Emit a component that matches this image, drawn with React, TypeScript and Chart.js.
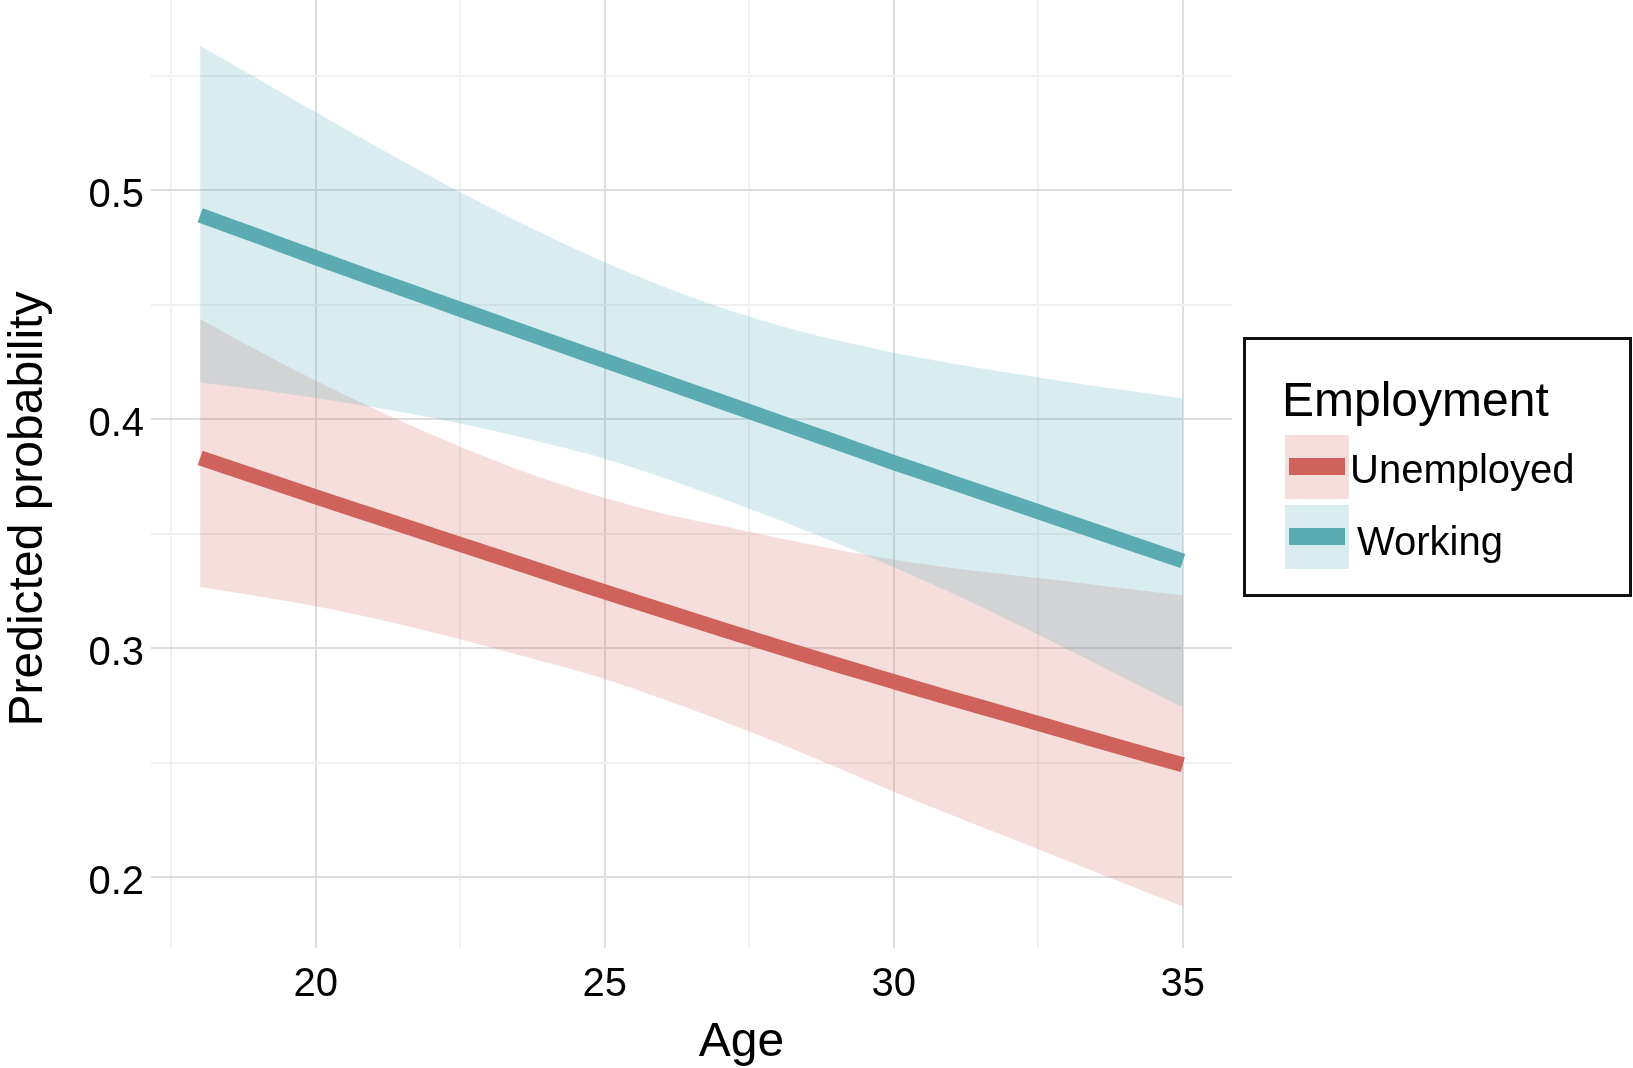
import React, { useEffect, useRef } from 'react';
import { Chart, registerables } from 'chart.js';

Chart.register(...registerables);

// ---------- data ----------
const ages = [18, 19, 20, 21, 22, 23, 24, 25, 26, 27, 28, 29, 30, 31, 32, 33, 34, 35];

const unemployedFit = [0.383, 0.3745, 0.366, 0.3577, 0.3494, 0.3411, 0.3328, 0.3245, 0.3164, 0.3084, 0.3005, 0.2928, 0.2853, 0.2779, 0.2707, 0.2634, 0.2561, 0.249];
const unemployedUpper = [0.4437, 0.4298, 0.4168, 0.4046, 0.3932, 0.3828, 0.3735, 0.3655, 0.3588, 0.3535, 0.348, 0.343, 0.3385, 0.335, 0.332, 0.3292, 0.326, 0.323];
const unemployedLower = [0.3266, 0.3226, 0.3182, 0.313, 0.307, 0.3005, 0.2937, 0.2865, 0.2778, 0.2685, 0.2585, 0.248, 0.2372, 0.2271, 0.2171, 0.2071, 0.1971, 0.1871];

const workingFit = [0.489, 0.4798, 0.4705, 0.4614, 0.4524, 0.4434, 0.4344, 0.4255, 0.4166, 0.4077, 0.3988, 0.3899, 0.381, 0.3724, 0.3638, 0.3552, 0.3466, 0.338];
const workingUpper = [0.563, 0.5485, 0.534, 0.5197, 0.5058, 0.4925, 0.48, 0.4685, 0.458, 0.4488, 0.441, 0.4345, 0.429, 0.4243, 0.4202, 0.4162, 0.4126, 0.409];
const workingLower = [0.416, 0.4128, 0.4092, 0.4052, 0.4006, 0.3953, 0.3893, 0.3827, 0.3745, 0.3655, 0.356, 0.346, 0.3353, 0.324, 0.312, 0.2995, 0.2868, 0.274];

const xGridTicks = [17.5, 20, 22.5, 25, 27.5, 30, 32.5, 35];
const xTickLabels = [20, 25, 30, 35];
const yGridTicks = [0.2, 0.25, 0.3, 0.35, 0.4, 0.45, 0.5, 0.55];
const yTickLabels = [0.2, 0.3, 0.4, 0.5];

const seriesNames = ['Unemployed', 'Working'];
const legendTitle = 'Employment';
const xTitle = 'Age';
const yTitle = 'Predicted probability';

// ---------- styles ----------
const FONT = '"Liberation Sans", Arial, Helvetica, sans-serif';
const RED = '#CF625A';
const TEAL = '#5AACB2';
const RED_FILL = 'rgba(207, 98, 90, 0.21)';
const TEAL_FILL = 'rgba(80, 175, 185, 0.22)';
const GRID_MAJOR = '#dedede';
const GRID_MINOR = '#f0f0f0';
const CLEAR = 'rgba(0,0,0,0)';

const W = 1633;
const H = 1068;

const pts = (arr: number[]) => ages.map((a, i) => ({ x: a, y: arr[i] }));
const near = (list: number[], v: number) => list.some((t) => Math.abs(t - v) < 1e-6);

const titlesPlugin = {
  id: 'axisTitles',
  afterDraw(chart: any) {
    const { ctx, chartArea } = chart;
    ctx.save();
    ctx.fillStyle = '#000';
    ctx.font = `48px ${FONT}`;
    ctx.textAlign = 'center';
    ctx.textBaseline = 'alphabetic';
    ctx.fillText(xTitle, (chartArea.left + chartArea.right) / 2 + 50, chart.height - 12);
    ctx.translate(41.5, (chartArea.top + chartArea.bottom) / 2 + 35);
    ctx.rotate(-Math.PI / 2);
    ctx.fillText(yTitle, 0, 0);
    ctx.restore();
  },
};

const band = (label: string, values: number[], fillColor: string | null) => ({
  label,
  data: pts(values),
  borderColor: CLEAR,
  borderWidth: 0,
  pointRadius: 0,
  backgroundColor: fillColor || CLEAR,
  fill: fillColor ? '+1' : false,
  cubicInterpolationMode: 'monotone',
});

function ChartCanvas() {
  const ref = useRef<HTMLCanvasElement | null>(null);
  useEffect(() => {
    if (!ref.current) return;
    Chart.defaults.font.family = FONT;
    const chart = new Chart(ref.current, {
      type: 'line',
      data: {
        datasets: [
          {
            label: seriesNames[0],
            data: pts(unemployedFit),
            borderColor: RED,
            borderWidth: 15,
            pointRadius: 0,
            fill: false,
            cubicInterpolationMode: 'monotone',
          },
          {
            label: seriesNames[1],
            data: pts(workingFit),
            borderColor: TEAL,
            borderWidth: 15,
            pointRadius: 0,
            fill: false,
            cubicInterpolationMode: 'monotone',
          },
          band('working upper', workingUpper, TEAL_FILL),
          band('working lower', workingLower, null),
          band('unemployed upper', unemployedUpper, RED_FILL),
          band('unemployed lower', unemployedLower, null),
        ],
      },
      options: {
        responsive: false,
        animation: false,
        devicePixelRatio: 1,
        layout: { padding: { left: 0, top: 0, right: 401, bottom: 0 } },
        plugins: {
          legend: { display: false },
          tooltip: { enabled: false },
          filler: { drawTime: 'beforeDatasetsDraw' },
        },
        scales: {
          x: {
            type: 'linear',
            min: 17.15,
            max: 35.85,
            afterBuildTicks: (scale: any) => {
              scale.ticks = xGridTicks.map((v) => ({ value: v }));
            },
            afterFit: (scale: any) => {
              scale.height = 120;
              scale.paddingLeft = 0;
              scale.paddingRight = 0;
            },
            ticks: {
              autoSkip: false,
              maxRotation: 0,
              padding: 13,
              color: '#000',
              font: { size: 40, family: FONT },
              callback: (v: any) => (near(xTickLabels, Number(v)) ? String(v) : ''),
            },
            grid: {
              drawTicks: false,
              lineWidth: 2,
              color: (c: any) => (c.tick && near(xTickLabels, c.tick.value) ? GRID_MAJOR : GRID_MINOR),
            },
            border: { display: false },
            title: { display: false },
          },
          y: {
            type: 'linear',
            min: 0.169,
            max: 0.583,
            afterBuildTicks: (scale: any) => {
              scale.ticks = yGridTicks.map((v) => ({ value: v }));
            },
            afterFit: (scale: any) => {
              scale.width = 151;
              scale.paddingTop = 0;
              scale.paddingBottom = 0;
            },
            ticks: {
              autoSkip: false,
              padding: 7,
              labelOffset: 6,
              color: '#000',
              font: { size: 40, family: FONT },
              callback: (v: any) => (near(yTickLabels, Number(v)) ? Number(v).toFixed(1) : ''),
            },
            grid: {
              drawTicks: false,
              lineWidth: 2,
              color: (c: any) => (c.tick && near(yTickLabels, c.tick.value) ? GRID_MAJOR : GRID_MINOR),
            },
            border: { display: false },
            title: { display: false },
          },
        },
      },
      plugins: [titlesPlugin],
    } as any);
    return () => chart.destroy();
  }, []);
  return <canvas ref={ref} width={W} height={H} style={{ display: 'block', width: W, height: H }} />;
}

function Legend() {
  const keys = [
    { name: seriesNames[0], fill: RED_FILL, line: RED, top: 435, labelLeft: 1350, labelTop: 449 },
    { name: seriesNames[1], fill: TEAL_FILL, line: TEAL, top: 505, labelLeft: 1357, labelTop: 521 },
  ];
  return (
    <div>
      <div
        style={{
          position: 'absolute',
          left: 1243,
          top: 337,
          width: 389,
          height: 260,
          boxSizing: 'border-box',
          border: '3px solid #111',
        }}
      />
      <div
        style={{
          position: 'absolute',
          left: 1282,
          top: 376,
          fontFamily: FONT,
          fontSize: 48,
          lineHeight: '48px',
          color: '#000',
          whiteSpace: 'nowrap',
        }}
      >
        {legendTitle}
      </div>
      {keys.map((k) => (
        <React.Fragment key={k.name}>
          <div style={{ position: 'absolute', left: 1285, top: k.top, width: 64, height: 64, background: k.fill }} />
          <div
            style={{
              position: 'absolute',
              left: 1289,
              top: k.top + 23,
              width: 56,
              height: 17,
              background: k.line,
            }}
          />
          <div
            style={{
              position: 'absolute',
              left: k.labelLeft,
              top: k.labelTop,
              fontFamily: FONT,
              fontSize: 40,
              lineHeight: '40px',
              color: '#000',
              whiteSpace: 'nowrap',
            }}
          >
            {k.name}
          </div>
        </React.Fragment>
      ))}
    </div>
  );
}

export default function App() {
  return (
    <div
      style={{
        position: 'fixed',
        left: 0,
        top: 0,
        width: W,
        height: H,
        background: '#fff',
        overflow: 'hidden',
      }}
    >
      <ChartCanvas />
      <Legend />
    </div>
  );
}
